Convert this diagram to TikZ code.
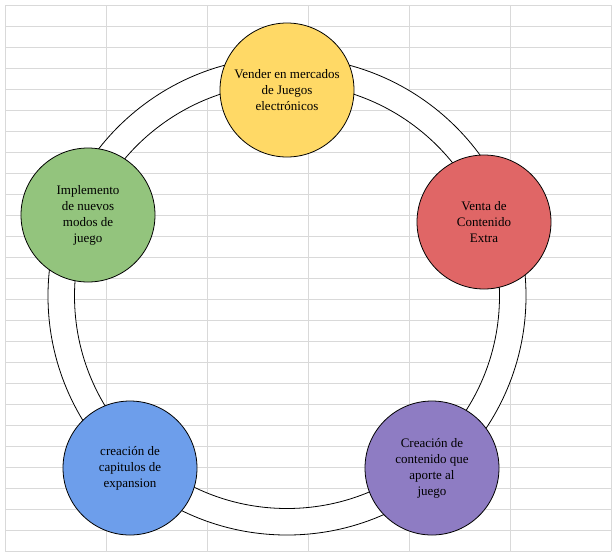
\documentclass[tikz,border=0pt]{standalone}
\usepackage{fontspec}
\setmainfont{Liberation Serif}
\usepackage{xcolor}
\usepackage{tikz}

\definecolor{gold}{HTML}{FFD966}
\definecolor{rosy}{HTML}{E06666}
\definecolor{sage}{HTML}{93C47D}
\definecolor{sky}{HTML}{6D9EEB}
\definecolor{lilac}{HTML}{8E7CC3}
\definecolor{cellgrid}{HTML}{D9D9D9}

\begin{document}
\begin{tikzpicture}[x=1pt,y=-1pt,font=\fontsize{13}{16}\selectfont,
  gridline/.style={cellgrid,line width=0.8pt},
  bubble/.style={circle,draw=black,line width=0.8pt,minimum size=134pt,inner sep=0pt,align=center}]

\useasboundingbox (0,0) rectangle (615,558);

% sheet cells
\foreach \r in {0,...,26}
  \draw[gridline] (5,5+21*\r) -- (611,5+21*\r);
\foreach \c in {0,...,6}
  \draw[gridline] (5+101*\c,5) -- (5+101*\c,551);

% ring
\draw[fill=white,even odd rule,line width=0.8pt] (287,296) circle[radius=239pt] (287,296) circle[radius=212.5pt];

% steps
\node[bubble,fill=gold] (vender) at (287,90) {Vender en mercados\\de Juegos\\electrónicos};
\node[bubble,fill=rosy] (venta) at (484,222) {Venta de\\Contenido\\Extra};
\node[bubble,fill=lilac] (aporte) at (432,468) {Creación de\\contenido que\\aporte al\\juego};
\node[bubble,fill=sky] (capitulos) at (130,468) {creación de\\capitulos de\\expansion};
\node[bubble,fill=sage] (modos) at (88,215) {Implemento\\de nuevos\\modos de\\juego};

\end{tikzpicture}
\end{document}
